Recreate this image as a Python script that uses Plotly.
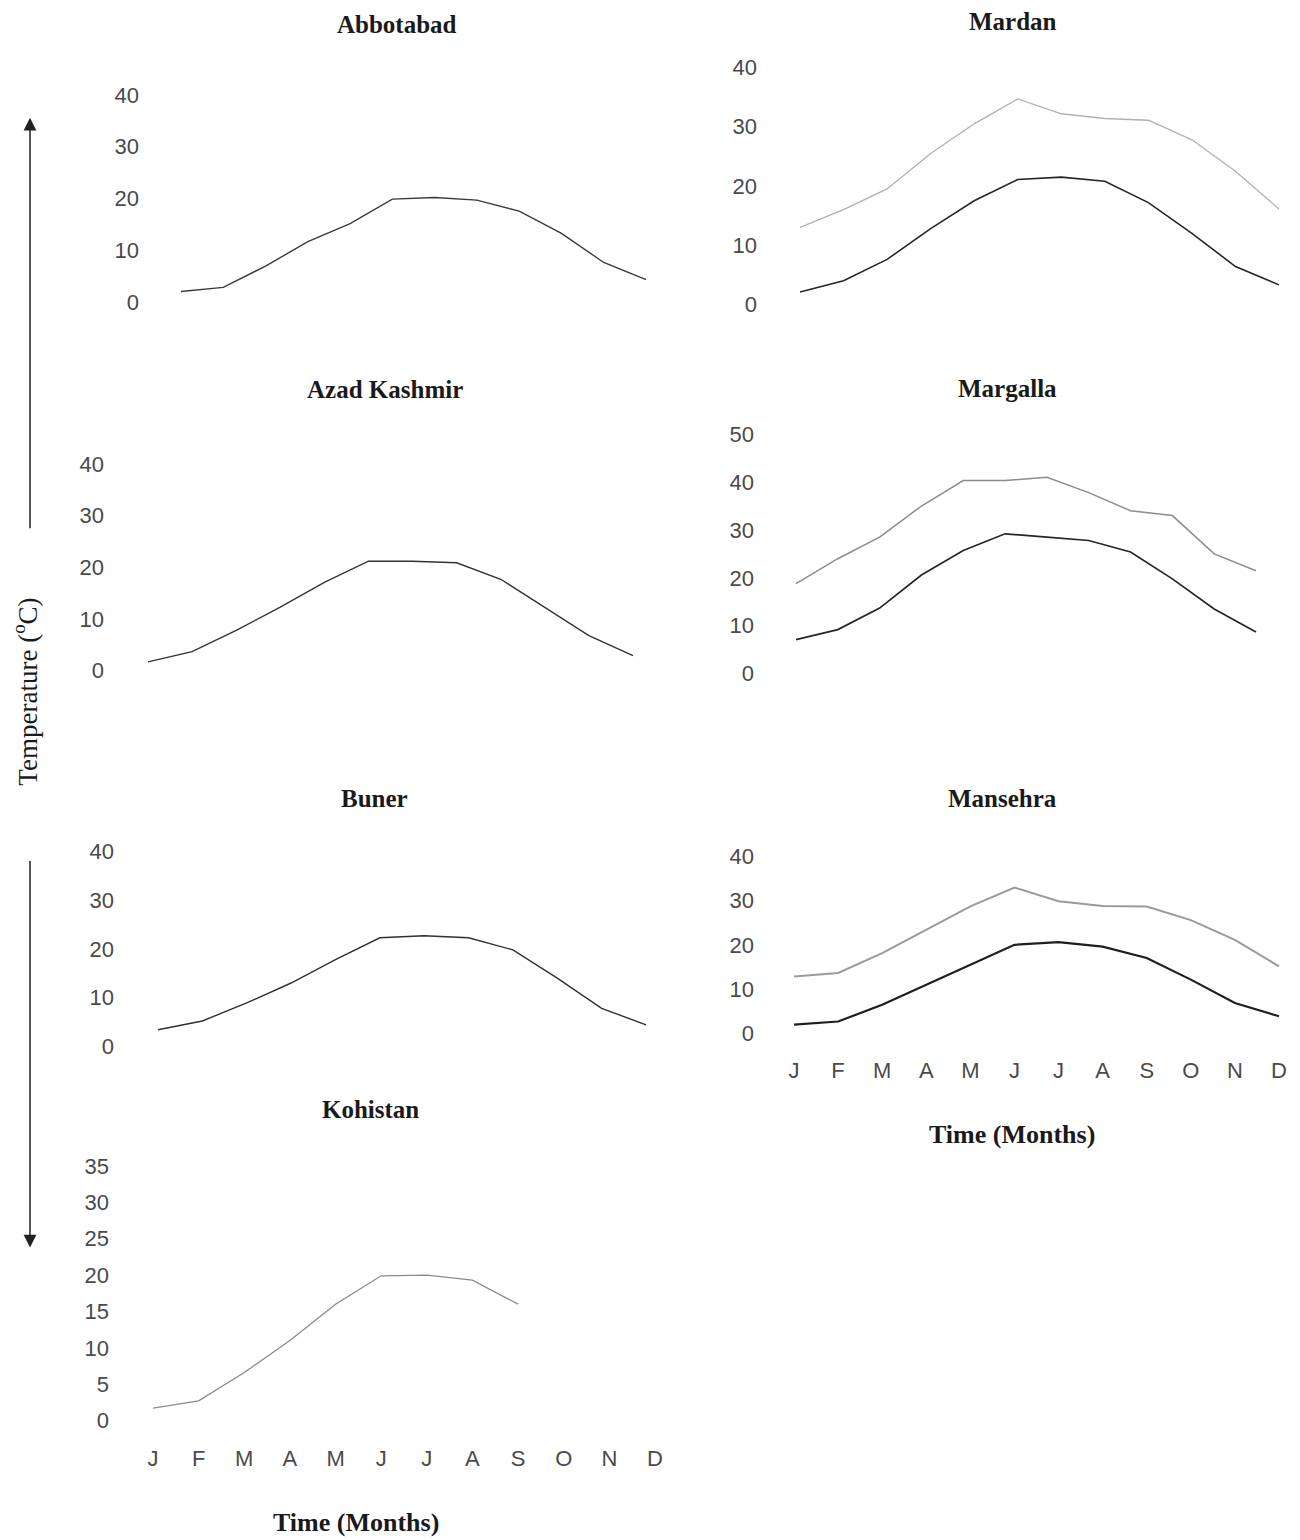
import plotly.graph_objects as go

W, H = 1300, 1540

months = ["J", "F", "M", "A", "M", "J", "J", "A", "S", "O", "N", "D"]

abbotabad = [2.1, 2.9, 7.0, 11.7, 15.2, 19.9, 20.2, 19.7, 17.6, 13.3, 7.7, 4.4]
mardan_min = [2.1, 4.0, 7.6, 12.8, 17.5, 21.1, 21.5, 20.8, 17.2, 12.0, 6.4, 3.3]
mardan_max = [13.0, 16.0, 19.5, 25.5, 30.5, 34.7, 32.2, 31.4, 31.1, 27.8, 22.5, 16.1]
azad_kashmir = [1.7, 3.7, 7.8, 12.3, 17.1, 21.2, 21.2, 20.9, 17.7, 12.2, 6.8, 2.9]
margalla_min = [7.1, 9.2, 13.7, 20.6, 25.7, 29.2, 28.5, 27.8, 25.4, 19.8, 13.5, 8.7]
margalla_max = [18.8, 24.0, 28.5, 35.0, 40.3, 40.3, 41.0, 37.8, 34.0, 33.0, 25.0, 21.5]
buner = [3.4, 5.2, 8.9, 13.0, 17.8, 22.3, 22.7, 22.3, 19.8, 14.0, 7.8, 4.4]
mansehra_min = [1.9, 2.6, 6.4, 10.9, 15.5, 20.0, 20.6, 19.6, 17.0, 12.1, 6.8, 3.8]
mansehra_max = [12.8, 13.6, 18.1, 23.4, 28.7, 33.0, 29.9, 28.8, 28.7, 25.6, 21.1, 15.1]
kohistan = [1.7, 2.7, 6.6, 11.0, 16.0, 19.9, 20.0, 19.3, 16.0, None, None, None]

titles = ["Abbotabad", "Mardan", "Azad Kashmir", "Margalla", "Buner", "Mansehra", "Kohistan"]

DARK = "#262626"
TICKFONT = dict(family="Liberation Sans, Arial, sans-serif", size=22, color="#4a4a4a")
SERIF = "Liberation Serif, Times New Roman, serif"

# panel geometry (pixels)
panels = [
    dict(series=[(abbotabad, "#3a3a3a", 1.4)], xJ=181, xD=646, p0=303, pT=95, vT=40, dt=10, lab=136,
         bottom=None, months=False, tpos=(397, 25)),
    dict(series=[(mardan_max, "#b0b0b0", 1.3), (mardan_min, DARK, 1.6)], xJ=800, xD=1279, p0=305, pT=67.7,
         vT=40, dt=10, lab=754, bottom=None, months=False, tpos=(1013, 22)),
    dict(series=[(azad_kashmir, "#333333", 1.4)], xJ=148, xD=633, p0=672, pT=465, vT=40, dt=10, lab=101,
         bottom=None, months=False, tpos=(385, 390)),
    dict(series=[(margalla_max, "#8c8c8c", 1.5), (margalla_min, DARK, 1.7)], xJ=796, xD=1256, p0=675,
         pT=435, vT=50, dt=10, lab=751, bottom=None, months=False, tpos=(1007, 389)),
    dict(series=[(buner, "#303030", 1.4)], xJ=158, xD=646, p0=1048.3, pT=853.3, vT=40, dt=10, lab=111,
         bottom=None, months=False, tpos=(375, 800)),
    dict(series=[(mansehra_max, "#9a9a9a", 2.0), (mansehra_min, "#1e1e1e", 2.2)], xJ=794, xD=1279,
         p0=1035, pT=858.3, vT=40, dt=10, lab=751, bottom=1057, months=True, tpos=(1002, 800)),
    dict(series=[(kohistan, "#8a8a8a", 1.3)], xJ=153, xD=655, p0=1423.3, pT=1168.3, vT=35, dt=5, lab=106,
         bottom=1446, months=True, tpos=(370, 1112)),
]

fig = go.Figure()
annotations = []
layout_axes = {}

for i, p in enumerate(panels, start=1):
    xa = "x" if i == 1 else f"x{i}"
    ya = "y" if i == 1 else f"y{i}"
    for vals, color, width in p["series"]:
        fig.add_trace(go.Scatter(x=list(range(12)), y=vals, mode="lines",
                                 line=dict(color=color, width=width),
                                 xaxis=xa, yaxis=ya, showlegend=False, hoverinfo="skip"))

    s = (p["xD"] - p["xJ"]) / 11
    left = p["lab"] + 4
    right = p["xD"] + 8
    xr = [-(p["xJ"] - left) / s, 11 + (right - p["xD"]) / s]
    k = (p["p0"] - p["pT"]) / p["vT"]
    bottom = p["bottom"] if p["bottom"] is not None else p["p0"] + 2 * k
    top = p["pT"] - 14
    yr = [-(bottom - p["p0"]) / k, (p["p0"] - top) / k]

    xkey = "xaxis" if i == 1 else f"xaxis{i}"
    ykey = "yaxis" if i == 1 else f"yaxis{i}"
    layout_axes[xkey] = dict(domain=[left / W, right / W], range=xr, anchor=ya,
                             showgrid=False, zeroline=False, showline=False, ticks="",
                             tickvals=list(range(12)), ticktext=months,
                             showticklabels=p["months"], tickfont=TICKFONT, fixedrange=True)
    layout_axes[ykey] = dict(domain=[1 - bottom / H, 1 - top / H], range=yr, anchor=xa,
                             showgrid=False, zeroline=False, showline=False, ticks="",
                             tickvals=list(range(0, p["vT"] + 1, p["dt"])),
                             tickfont=TICKFONT, fixedrange=True)

    tx, ty = p["tpos"]
    annotations.append(dict(text=f"<b>{titles[i-1]}</b>", x=tx / W, y=1 - ty / H, xref="paper",
                            yref="paper", xanchor="center", yanchor="middle", showarrow=False,
                            font=dict(family=SERIF, size=25, color="#1a1a1a")))

# x-axis titles
for tx, ty in [(1012, 1137), (356, 1525)]:
    annotations.append(dict(text="<b>Time (Months)</b>", x=tx / W, y=1 - ty / H, xref="paper",
                            yref="paper", xanchor="center", yanchor="middle", showarrow=False,
                            font=dict(family=SERIF, size=26, color="#1a1a1a")))

# y-axis title
annotations.append(dict(text="Temperature (<sup>o</sup>C)", x=25 / W, y=1 - 693 / H, xref="paper",
                        yref="paper", xanchor="center", yanchor="middle", showarrow=False,
                        textangle=-90, font=dict(family=SERIF, size=27, color="#1a1a1a")))

# arrows (head position in paper coords, tail offset in pixels)
annotations.append(dict(text="", x=30 / W, y=1 - 118 / H, ax=0, ay=412,
                        xref="paper", yref="paper", axref="pixel", ayref="pixel",
                        showarrow=True, arrowhead=2, arrowsize=1.7, arrowwidth=1.5, arrowcolor="#222"))
annotations.append(dict(text="", x=30 / W, y=1 - 1250 / H, ax=0, ay=-388,
                        xref="paper", yref="paper", axref="pixel", ayref="pixel",
                        showarrow=True, arrowhead=2, arrowsize=1.7, arrowwidth=1.5, arrowcolor="#222"))

fig.update_layout(width=W, height=H, margin=dict(l=0, r=0, t=0, b=0),
                  paper_bgcolor="white", plot_bgcolor="white",
                  annotations=annotations, showlegend=False, **layout_axes)

fig.write_html("out.html")
